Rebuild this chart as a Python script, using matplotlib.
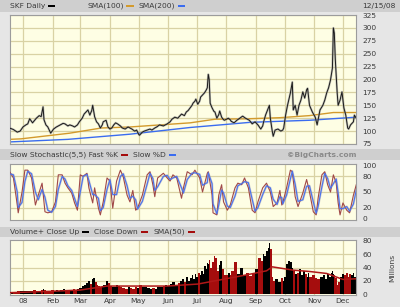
import numpy as np
import pandas as pd
import matplotlib
matplotlib.use("Agg")
import matplotlib.pyplot as plt
from matplotlib.patches import Rectangle

# ---------------- data (x = days since 2008-01-01) ----------------
price_days = [-14, -10, -6, -3,
              0, 3, 5, 7, 10, 14, 17, 19, 21, 22, 24, 26, 29,
              32, 35, 37, 39, 42, 44, 47, 49, 52, 54, 57,
              59, 62, 64, 66, 68, 70, 72, 73, 75, 77, 79,
              81, 83, 84, 87, 89, 91, 93, 95, 97, 99, 102, 104,
              107, 110, 112, 114, 117, 119, 121, 122, 125, 127, 130, 133, 135, 138, 140, 143, 147, 149,
              151, 154, 156, 159, 162, 164, 166, 169, 171, 173, 175, 177, 178, 180, 181, 183,
              185, 186, 188, 190, 192, 193, 194, 195, 196, 198, 200, 201, 203, 205, 206, 208, 210, 211,
              215, 217, 218, 221, 224, 227, 230, 233, 237, 240,
              243, 246, 249, 251, 252, 254, 257, 258, 259, 261, 262,
              264, 267, 270, 272, 273, 275, 277, 280, 282,
              283, 285, 287, 289, 291, 293, 295, 297, 298, 300, 303, 306, 308,
              311, 314, 316, 318, 320, 322, 324, 325, 326, 327, 329, 330, 332, 334, 336, 338, 340, 341, 343, 346, 347, 349]
price = [106, 103, 98, 100,
         108, 112, 114, 124, 116, 125, 130, 128, 147, 122, 112, 108, 96,
         104, 108, 110, 112, 115, 114, 110, 112, 110, 108, 112,
         118, 125, 133, 137, 141, 131, 140, 150, 128, 118, 114,
         106, 112, 118, 121, 108, 104, 106, 112, 116, 114, 110, 106,
         104, 108, 106, 104, 100, 102, 94, 92, 98, 100, 102, 104, 102, 106, 108, 112, 110, 112,
         114, 118, 123, 127, 125, 129, 133, 130, 137, 140, 145, 150, 154, 158, 162, 152,
         158, 166, 170, 174, 180, 184, 210, 200, 154, 145, 138, 137, 125, 132, 139, 127, 122, 121,
         125, 122, 119, 116, 121, 125, 129, 125, 121, 114,
         118, 112, 104, 110, 118, 131, 145, 150, 125, 100, 90,
         102, 104, 100, 102, 106, 131, 150, 174, 195,
         141, 150, 131, 150, 160, 176, 164, 180, 183, 150, 137, 127, 112,
         141, 150, 160, 174, 184, 199, 222, 300, 290, 240, 174, 150, 160, 176, 145, 131, 106, 104, 112, 118, 131, 125]
volume = [3, 3, 4, 4,
          4, 5, 4, 5, 6, 5, 5, 6, 8, 6, 5, 5, 6,
          5, 6, 5, 6, 7, 6, 5, 6, 7, 6, 7,
          9, 12, 14, 17, 20, 15, 22, 24, 18, 14, 12,
          10, 12, 14, 20, 16, 12, 10, 11, 13, 12, 10, 9,
          8, 10, 9, 8, 10, 9, 12, 14, 11, 10, 9, 8, 9, 8, 10, 11, 12, 13,
          12, 15, 18, 14, 16, 20, 22, 18, 25, 20, 24, 28, 22, 30, 26, 32,
          28, 35, 30, 42, 38, 47, 45, 52, 40, 48, 58, 55, 35, 44, 50, 38, 30, 28,
          32, 28, 35, 48, 30, 40, 28, 32, 27, 30,
          38, 55, 50, 60, 58, 65, 70, 77, 68, 25, 20,
          22, 18, 24, 20, 25, 45, 50, 48, 40,
          35, 30, 32, 38, 28, 35, 30, 26, 32, 25, 28, 24, 22,
          25, 28, 22, 30, 26, 32, 35, 30, 28, 24, 14, 18, 25, 30, 28, 32, 26, 30, 28, 32, 26, 30]

sma100_days = [-14, -2, 49, 82, 112, 175, 201, 238, 269, 300, 325, 349]
sma100 = [84, 85, 96, 106, 108, 116, 123, 124, 126, 130, 136, 136]
sma200_days = [-14, 47, 112, 175, 238, 300, 349]
sma200 = [79, 84, 94, 107, 117, 121, 127]

stoch_days = [-14, -10, -6, -5, -1, 2, 5, 9, 13, 16, 20, 23, 26, 30, 34, 37, 41, 44, 47, 51,
              54, 57, 60, 63, 67, 69, 73, 75, 79, 81, 84, 88, 91, 94, 98, 102, 105, 109, 112, 115,
              118, 120, 125, 130, 133, 136, 138, 141, 147, 151, 154, 157, 161, 166, 168, 172, 177, 180, 185, 188,
              193, 194, 198, 199, 203, 205, 208, 210, 214, 217, 222, 225, 229, 232, 236, 240, 243, 246, 251, 255,
              259, 262, 266, 269, 271, 272, 276, 280, 282, 285, 288, 293, 297, 300, 304, 307, 309, 313, 316, 319,
              322, 325, 328, 330, 332, 335, 339, 342, 346, 349]
fast_k = [89, 77, 25, 10, 50, 92, 92, 77, 25, 44, 67, 12, 10, 12, 31, 83, 83, 67, 58, 48,
          29, 15, 83, 80, 86, 58, 29, 58, 19, 6, 31, 77, 71, 19, 71, 92, 79, 44, 31, 53,
          15, 19, 44, 83, 89, 64, 41, 77, 86, 77, 71, 83, 77, 38, 58, 89, 83, 92, 77, 50,
          86, 89, 44, 10, 6, 44, 64, 31, 15, 25, 58, 67, 64, 77, 58, 15, 10, 31, 58, 67,
          50, 22, 29, 53, 25, 29, 58, 92, 89, 41, 22, 48, 74, 50, 12, 6, 38, 83, 89, 64,
          50, 83, 67, 29, 6, 29, 15, 10, 44, 64]
slow_d = [85, 83, 50, 20, 30, 70, 90, 85, 50, 35, 55, 40, 15, 11, 22, 55, 80, 75, 62, 53,
          38, 22, 50, 80, 84, 72, 45, 45, 38, 14, 20, 55, 74, 45, 45, 80, 85, 62, 38, 42,
          35, 17, 32, 65, 86, 76, 53, 60, 80, 82, 74, 77, 80, 58, 48, 74, 86, 87, 84, 63,
          68, 87, 66, 27, 8, 25, 54, 48, 23, 20, 42, 62, 66, 70, 68, 36, 13, 20, 45, 62,
          58, 36, 26, 41, 39, 27, 44, 75, 90, 65, 32, 35, 61, 62, 31, 9, 22, 60, 86, 76,
          57, 66, 75, 48, 18, 18, 22, 13, 27, 54]

vol_sma_days = [-14, 28, 60, 88, 122, 151, 183, 220, 238, 255, 261, 283, 300, 318, 335, 349]
vol_sma = [2, 4, 6, 12, 12, 12, 15, 25, 30, 35, 41, 36, 34, 31, 22, 23]

price_ticks = [75, 100, 125, 150, 175, 200, 225, 250, 275, 300, 325]
stoch_ticks = [0, 20, 50, 80, 100]
vol_ticks = [0, 20, 40, 60, 80]
month_labels = ['08', 'Feb', 'Mar', 'Apr', 'May', 'Jun', 'Jul', 'Aug', 'Sep', 'Oct', 'Nov', 'Dec']

# ---------------- styling ----------------
W, H = 400, 307
FIG_BG = '#e6e6e6'
BAND = '#cfcfcf'
PLOT_BG = '#fefee4'
GRID = '#d9d2a4'
TXT = '#3a3a3a'
FS = 5.4
FONT = 'DejaVu Sans'

fig = plt.figure(figsize=(W / 100, H / 100), dpi=100, facecolor=FIG_BG)
renderer = fig.canvas.get_renderer()

def fx(x):
    return x / W

def fy(y):
    return 1 - y / H

def band(y0, y1):
    fig.add_artist(Rectangle((0, fy(y1)), 1, (y1 - y0) / H, transform=fig.transFigure,
                             facecolor=BAND, edgecolor='none', zorder=0))

def dash(x0, y, color):
    fig.add_artist(Rectangle((fx(x0), fy(y + 1)), 7 / W, 2.2 / H, transform=fig.transFigure,
                             facecolor=color, edgecolor='none', zorder=3))

def txt(x, y, s, **kw):
    d = dict(fontsize=FS, color=TXT, family=FONT, va='center', ha='left')
    d.update(kw)
    t = fig.text(fx(x), fy(y), s, **d)
    return t.get_window_extent(renderer=renderer).x1

def legend_row(y, items, x0=10):
    """items: list of (label, color); each label followed by a colored dash."""
    x = x0
    for label, color in items:
        right = txt(x, y, label)
        dash(right + 3, y, color)
        x = right + 3 + 7 + 5

band(0, 11.5)
band(149, 160)
band(227, 237)

month_starts = pd.date_range('2008-01-01', '2008-12-01', freq='MS')
month_days = [(m - pd.Timestamp('2008-01-01')).days for m in month_starts]
XL = (-13.6, 348.7)

def make_ax(y_top, y_bot, ylim, yticks, grid_ticks):
    ax = fig.add_axes([fx(10), fy(y_bot), fx(356) - fx(10), (y_bot - y_top) / H])
    ax.set_facecolor(PLOT_BG)
    ax.set_xlim(*XL)
    ax.set_ylim(*ylim)
    for v in grid_ticks:
        ax.axhline(v, color=GRID, lw=0.9, zorder=0)
    for d in month_days:
        ax.axvline(d, color=GRID, lw=0.9, zorder=0)
    ax.set_xticks(month_days)
    ax.set_xticklabels([])
    ax.set_yticks(yticks)
    ax.set_yticklabels([str(t) for t in yticks], fontsize=FS, color=TXT, family=FONT)
    ax.yaxis.tick_right()
    ax.tick_params(axis='both', length=0)
    ax.tick_params(axis='y', pad=4.5)
    for s in ax.spines.values():
        s.set_color('#9c9c9c')
        s.set_linewidth(0.8)
    return ax

# ---- price panel ----
ax1 = make_ax(15, 144, (75, 325), price_ticks, price_ticks)
ax1.plot(sma100_days, sma100, color='#d39a2c', lw=1.0, zorder=2)
ax1.plot(sma200_days, sma200, color='#3a6cf0', lw=1.0, zorder=2)
ax1.plot(price_days, price, color='#9a9a9a', lw=1.6, zorder=3, alpha=0.6)
ax1.plot(price_days, price, color='#1a1a1a', lw=0.7, zorder=4)

# ---- stochastic panel ----
ax2 = make_ax(164, 220, (-3.8, 103.8), stoch_ticks, [20, 50, 80])
ax2.plot(stoch_days, slow_d, color='#9a9ab0', lw=1.6, alpha=0.5, zorder=2)
ax2.plot(stoch_days, fast_k, color='#a04848', lw=0.8, zorder=3)
ax2.plot(stoch_days, slow_d, color='#4a72f0', lw=0.8, zorder=4)

# ---- volume panel ----
ax3 = make_ax(240, 295, (-1.5, 81.5), vol_ticks, [20, 40, 60])
pd_arr = np.asarray(price_days, dtype=float)
widths = np.diff(pd_arr, append=pd_arr[-1] + 1.5)
up = np.concatenate([[True], np.diff(price) >= 0])
cols = np.where(up, '#000000', '#a50d0d')
ax3.bar(pd_arr, volume, width=widths, align='edge', color=cols, linewidth=0, zorder=2)
ax3.plot(vol_sma_days, vol_sma, color='#b01818', lw=1.1, zorder=3)
ax3.set_xticklabels(month_labels, fontsize=FS, color=TXT, family=FONT)
ax3.tick_params(axis='x', pad=2.5)

# ---- header texts ----
legend_row(6, [('SKF Daily', '#000000')])
legend_row(6, [('SMA(100)', '#d39a2c'), ('SMA(200)', '#3a6cf0')], x0=87)
txt(362, 6, '12/15/08')

legend_row(155, [('Slow Stochastic(5,5) Fast %K', '#a50d0d'), ('Slow %D', '#3a6cf0')])
txt(356, 155, '\u00a9BigCharts.com', ha='right', color='#8a8a8a', fontweight='bold')

legend_row(232, [('Volume+ Close Up', '#000000'), ('Close Down', '#a50d0d'), ('SMA(50)', '#a50d0d')])

txt(392, 268, 'Millions', rotation=90, ha='center')

fig.savefig('out.png', dpi=100, facecolor=FIG_BG)
